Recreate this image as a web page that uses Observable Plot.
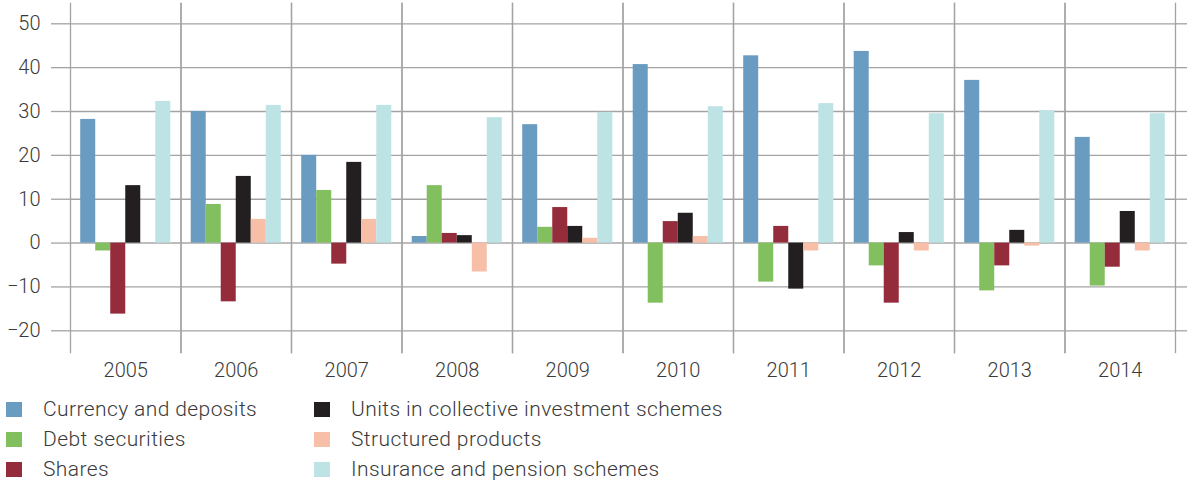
<!DOCTYPE html>
<html><head><meta charset="utf-8">
<script src="https://cdn.jsdelivr.net/npm/d3@7"></script>
<script src="https://cdn.jsdelivr.net/npm/@observablehq/plot@0.6"></script>
<style>
body{margin:0;background:#fff;}
#legend{position:relative;width:1187px;height:99px;font-family:Roboto,sans-serif;font-weight:300;font-size:21px;letter-spacing:0.4px;color:#3a3a3a}
.item{position:absolute;display:flex;align-items:center;height:30px;white-space:nowrap}
.sw{width:16px;height:15px;margin-right:21px;flex:none}
</style></head><body>
<div id="chart"></div><div id="legend"></div>
<script>
const years = ["2005","2006","2007","2008","2009","2010","2011","2012","2013","2014"];
const series = ["Currency and deposits","Debt securities","Shares","Units in collective investment schemes","Structured products","Insurance and pension schemes"];
const colors = ["#6a9bc0","#82bf5e","#952c3b","#231f20","#f8bfa8","#bde3e5"];
const currency   = [28.2, 30.0, 20.0, 1.5, 27.0, 40.7, 42.7, 43.7, 37.1, 24.1];
const debt       = [-1.8, 8.8, 12.0, 13.1, 3.6, -13.7, -8.9, -5.2, -10.9, -9.8];
const shares     = [-16.2, -13.4, -4.8, 2.2, 8.1, 4.9, 3.8, -13.7, -5.2, -5.5];
const units      = [13.1, 15.2, 18.4, 1.7, 3.8, 6.8, -10.5, 2.4, 2.9, 7.2];
const structured = [0, 5.4, 5.4, -6.6, 1.1, 1.5, -1.8, -1.8, -0.7, -1.8];
const insurance  = [32.3, 31.4, 31.4, 28.6, 29.8, 31.1, 31.8, 29.5, 30.2, 29.5];
const yTicks = [-20, -10, 0, 10, 20, 30, 40, 50];

const values = [currency, debt, shares, units, structured, insurance];
const rows = years.flatMap((yr, i) => series.map((s, j) => ({year: yr, series: s, value: values[j][i]})));

const grid = "#a3a3a3";
const plot = Plot.plot({
  width: 1187, height: 385,
  marginLeft: 70, marginRight: 12, marginTop: 3, marginBottom: 33,
  fx: {domain: years, padding: 0, round: false, label: null},
  x: {domain: series, paddingInner: 0, paddingOuter: 0.68, round: false, axis: null},
  y: {domain: [-24.95, 54.63], label: null},
  color: {domain: series, range: colors},
  style: {fontFamily: "Roboto, sans-serif", fontSize: "20px", fontWeight: 300, color: "#3a3a3a", background: "#fff"},
  marks: [
    Plot.ruleY(yTicks.filter(d => d !== 0), {stroke: grid, strokeWidth: 1.3}),
    Plot.ruleY([0], {stroke: "#bdbdbd", strokeWidth: 2}),
    Plot.frame({anchor: "left", stroke: grid, strokeWidth: 1.3}),
    Plot.frame({anchor: "right", stroke: grid, strokeWidth: 1.3}),
    Plot.axisY(yTicks, {tickSize: 19, tickPadding: 11, stroke: grid, strokeWidth: 1.3, label: null, fontSize: 20}),
    Plot.axisY(yTicks, {anchor: "right", tickSize: 12, tickFormat: () => "", stroke: grid, strokeWidth: 1.3, label: null}),
    Plot.axisFx({anchor: "bottom", tickSize: 0, tickPadding: 10, label: null, fontSize: 20}),
    Plot.barY(rows, {fx: "year", x: "series", y: "value", fill: "series"})
  ]
});
document.getElementById("chart").appendChild(plot);

const legend = document.getElementById("legend");
const colLeft = [6, 314];
const rowTop = [9, 39, 69];
series.forEach((s, j) => {
  const item = document.createElement("div");
  item.className = "item";
  item.style.left = colLeft[Math.floor(j / 3)] + "px";
  item.style.top = rowTop[j % 3] + "px";
  const sw = document.createElement("span");
  sw.className = "sw";
  sw.style.background = colors[j];
  const t = document.createElement("span");
  t.textContent = s;
  item.appendChild(sw); item.appendChild(t);
  legend.appendChild(item);
});
</script>
</body></html>
